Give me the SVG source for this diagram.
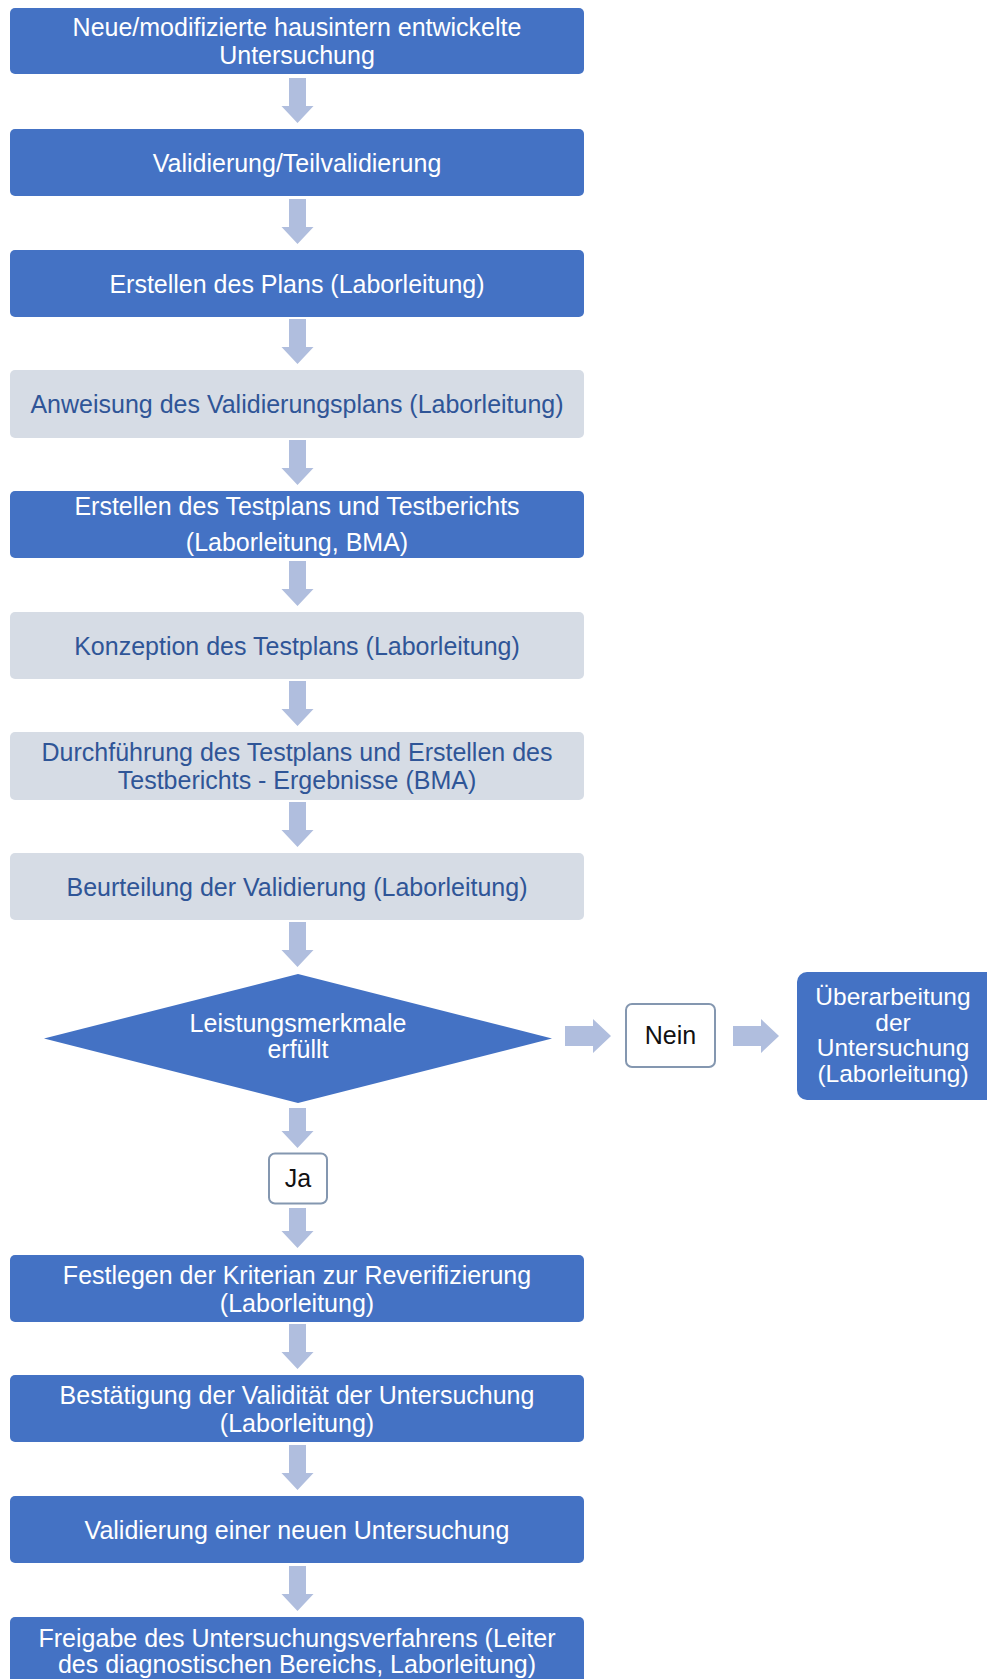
<svg xmlns="http://www.w3.org/2000/svg" xmlns:xlink="http://www.w3.org/1999/xlink" width="987" height="1679" viewBox="0 0 987 1679">
<style>
.bd{fill:#4472C4}
.bl{fill:#D6DCE5}
.bw{fill:#FFFFFF;stroke:#8497B0;stroke-width:2}
.ar{fill:#B0BEDE}
text{font-family:"Liberation Sans",Arial,sans-serif;font-size:25px;text-anchor:middle}
.tw{fill:#FFFFFF}
.tb{fill:#2F5597}
.tk{fill:#111111}
.ts{font-size:24.5px}
</style>
<defs>
<path id="ad" d="M-8.5,0 H8.5 V28 H16 L0,45 L-16,28 H-8.5 Z"/>
<path id="ad2" d="M-8.5,0 H8.5 V23 H16 L0,40 L-16,23 H-8.5 Z"/>
<path id="ar" d="M0,-10 H28 V-17 L46,0 L28,17 V10 H0 Z"/>
</defs>
<rect width="987" height="1679" fill="#FFFFFF"/>
<g id="connectors" class="ar">
<use xlink:href="#ad" x="297.5" y="78"/>
<use xlink:href="#ad" x="297.5" y="199"/>
<use xlink:href="#ad" x="297.5" y="319"/>
<use xlink:href="#ad" x="297.5" y="440"/>
<use xlink:href="#ad" x="297.5" y="561"/>
<use xlink:href="#ad" x="297.5" y="681"/>
<use xlink:href="#ad" x="297.5" y="802"/>
<use xlink:href="#ad" x="297.5" y="922"/>
<use xlink:href="#ad2" x="297.5" y="1108"/>
<use xlink:href="#ad2" x="297.5" y="1208"/>
<use xlink:href="#ad" x="297.5" y="1324"/>
<use xlink:href="#ad" x="297.5" y="1445"/>
<use xlink:href="#ad" x="297.5" y="1566"/>
<use xlink:href="#ar" x="565" y="1036"/>
<use xlink:href="#ar" x="733" y="1036"/>
</g>
<g id="n1"><rect class="bd" x="10" y="8" width="574" height="66" rx="5"/><text class="tw" x="297" y="36">Neue/modifizierte hausintern entwickelte</text><text class="tw" x="297" y="64">Untersuchung</text></g>
<g id="n2"><rect class="bd" x="10" y="129" width="574" height="67" rx="5"/><text class="tw" x="297" y="171.5">Validierung/Teilvalidierung</text></g>
<g id="n3"><rect class="bd" x="10" y="250" width="574" height="67" rx="5"/><text class="tw" x="297" y="292.5">Erstellen des Plans (Laborleitung)</text></g>
<g id="n4"><rect class="bl" x="10" y="370" width="574" height="68" rx="5"/><text class="tb" x="297" y="413">Anweisung des Validierungsplans (Laborleitung)</text></g>
<g id="n5"><rect class="bd" x="10" y="491" width="574" height="67" rx="5"/><text class="tw" x="297" y="515">Erstellen des Testplans und Testberichts</text><text class="tw" x="297" y="551">(Laborleitung, BMA)</text></g>
<g id="n6"><rect class="bl" x="10" y="612" width="574" height="67" rx="5"/><text class="tb" x="297" y="654.5">Konzeption des Testplans (Laborleitung)</text></g>
<g id="n7"><rect class="bl" x="10" y="732" width="574" height="68" rx="5"/><text class="tb" x="297" y="761">Durchführung des Testplans und Erstellen des</text><text class="tb" x="297" y="789">Testberichts - Ergebnisse (BMA)</text></g>
<g id="n8"><rect class="bl" x="10" y="853" width="574" height="67" rx="5"/><text class="tb" x="297" y="895.5">Beurteilung der Validierung (Laborleitung)</text></g>
<g id="d1"><polygon class="bd" points="298,974 552,1038.5 298,1103 44,1038.5"/><text class="tw" x="298" y="1031.5">Leistungsmerkmale</text><text class="tw" x="298" y="1057.5">erfüllt</text></g>
<g id="nein"><rect class="bw" x="626" y="1004" width="89" height="63" rx="6"/><text class="tk" x="670.5" y="1044">Nein</text></g>
<g id="n13"><rect class="bd" x="797" y="972" width="200" height="128" rx="10"/><text class="tw ts" x="893" y="1005">Überarbeitung</text><text class="tw ts" x="893" y="1030.5">der</text><text class="tw ts" x="893" y="1056">Untersuchung</text><text class="tw ts" x="893" y="1081.5">(Laborleitung)</text></g>
<g id="ja"><rect class="bw" x="269" y="1153.5" width="58" height="50" rx="6"/><text class="tk" x="298" y="1187">Ja</text></g>
<g id="n9"><rect class="bd" x="10" y="1255" width="574" height="67" rx="5"/><text class="tw" x="297" y="1283.5">Festlegen der Kriterian zur Reverifizierung</text><text class="tw" x="297" y="1311.5">(Laborleitung)</text></g>
<g id="n10"><rect class="bd" x="10" y="1375" width="574" height="67" rx="5"/><text class="tw" x="297" y="1403.5">Bestätigung der Validität der Untersuchung</text><text class="tw" x="297" y="1431.5">(Laborleitung)</text></g>
<g id="n11"><rect class="bd" x="10" y="1496" width="574" height="67" rx="5"/><text class="tw" x="297" y="1538.5">Validierung einer neuen Untersuchung</text></g>
<g id="n12"><rect class="bd" x="10" y="1617" width="574" height="80" rx="5"/><text class="tw" x="297" y="1647">Freigabe des Untersuchungsverfahrens (Leiter</text><text class="tw" x="297" y="1673">des diagnostischen Bereichs, Laborleitung)</text></g>
</svg>
